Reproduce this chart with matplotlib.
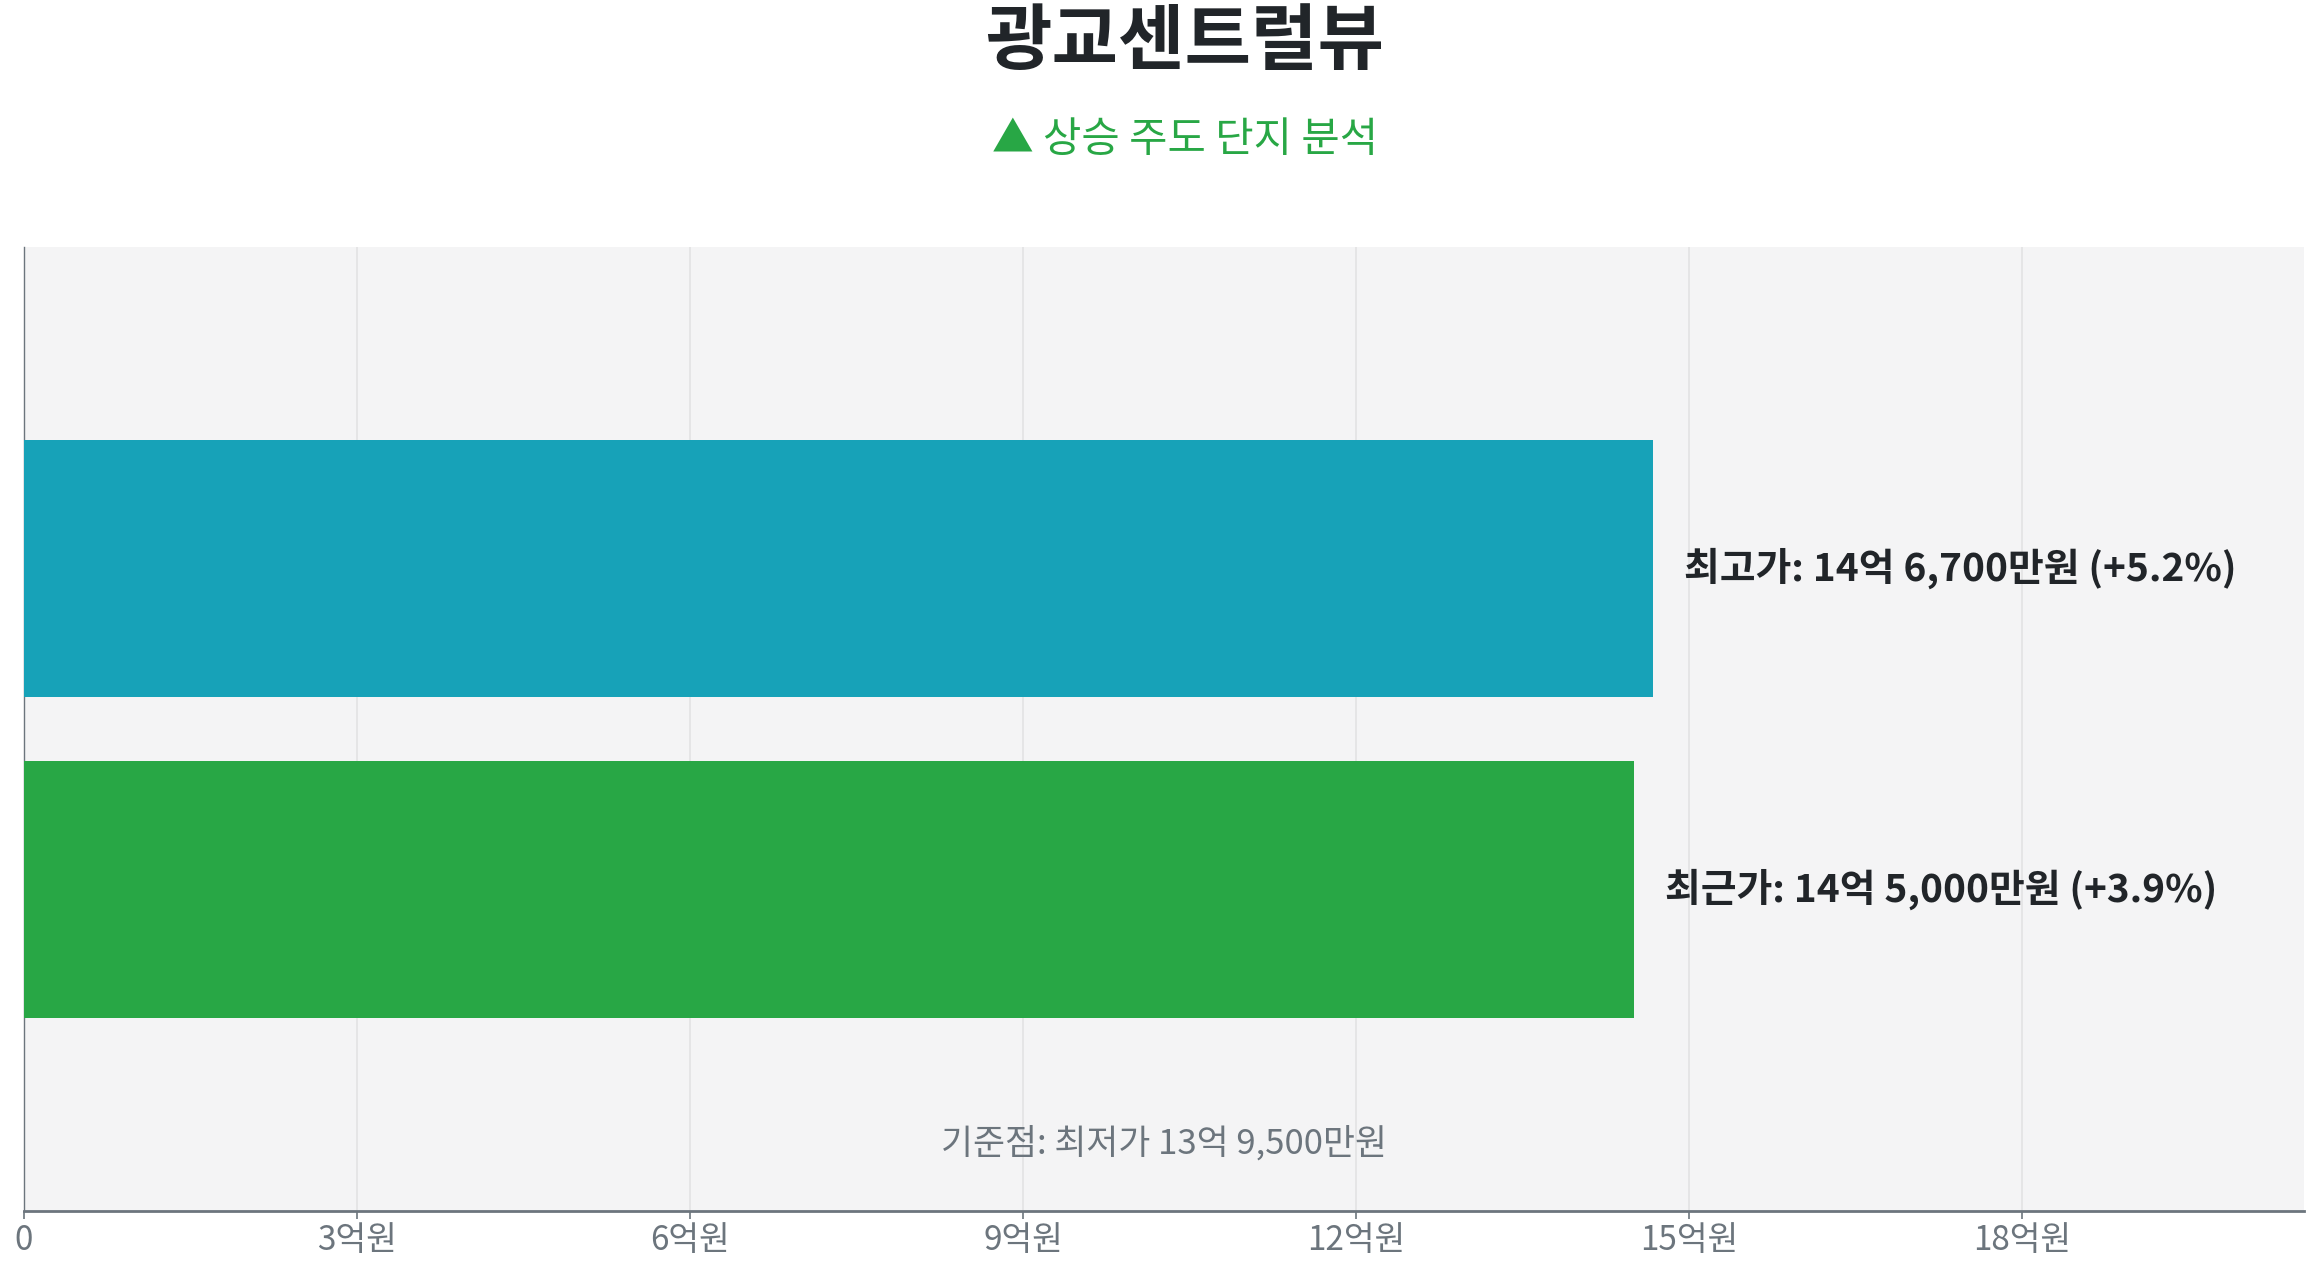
import matplotlib
matplotlib.use("Agg")
import matplotlib.pyplot as plt

plt.rcParams['font.family'] = ['Noto Sans CJK KR', 'DejaVu Sans']

# data (억원)
labels = ['최근가', '최고가']
prices = [14.5, 14.67]
price_texts = ['14억 5,000만원', '14억 6,700만원']
changes = [3.9, 5.2]
bar_colors = ['#28A745', '#17A2B8']
base_label = '최저가'
base_text = '13억 9,500만원'
ticks = [0, 3, 6, 9, 12, 15, 18]
tick_labels = ['0', '3억원', '6억원', '9억원', '12억원', '15억원', '18억원']

fig = plt.figure(figsize=(23.07, 12.68), dpi=100)
ax = fig.add_axes([0.0103, 0.045, 0.9884, 0.760])
ax.set_facecolor('#F4F4F5')

ypos = list(range(len(labels)))
ax.barh(ypos, prices, height=0.8, color=bar_colors, zorder=3)

for y, p, t, lab, c in zip(ypos, prices, price_texts, labels, changes):
    ax.text(p + 0.28, y, f'{lab}: {t} (+{c}%)', va='center', ha='left',
            fontsize=28, fontweight='bold', color='#212529', zorder=4)

xmax = max(prices) * 1.4
ax.set_xlim(0, xmax)
ax.set_ylim(-1, 2)
ax.set_yticks([])
ax.set_xticks(ticks)
ax.set_xticklabels(tick_labels)
ax.tick_params(axis='x', labelsize=24, labelcolor='#6C757D', color='#6C757D',
               length=6, width=1.2, pad=3)
ax.grid(axis='x', color='#E3E3E3', linewidth=1.2, zorder=0)

for side in ['top', 'right']:
    ax.spines[side].set_visible(False)
ax.spines['left'].set_color('#6C757D')
ax.spines['left'].set_linewidth(1.0)
ax.spines['bottom'].set_color('#6C757D')
ax.spines['bottom'].set_linewidth(2.0)

ax.text(0.5, 0.07, f'기준점: {base_label} {base_text}', transform=ax.transAxes,
        ha='center', va='center', fontsize=25, color='#6C757D')

fig.text(0.5135, 0.966, '광교센트럴뷰', ha='center', va='center',
         fontsize=52, fontweight='bold', color='#212529')
fig.text(0.5135, 0.889, '▲ 상승 주도 단지 분석', ha='center', va='center',
         fontsize=30, color='#28A745', family=['Noto Sans CJK KR', 'DejaVu Sans'])

fig.savefig('out.png', dpi=100)
